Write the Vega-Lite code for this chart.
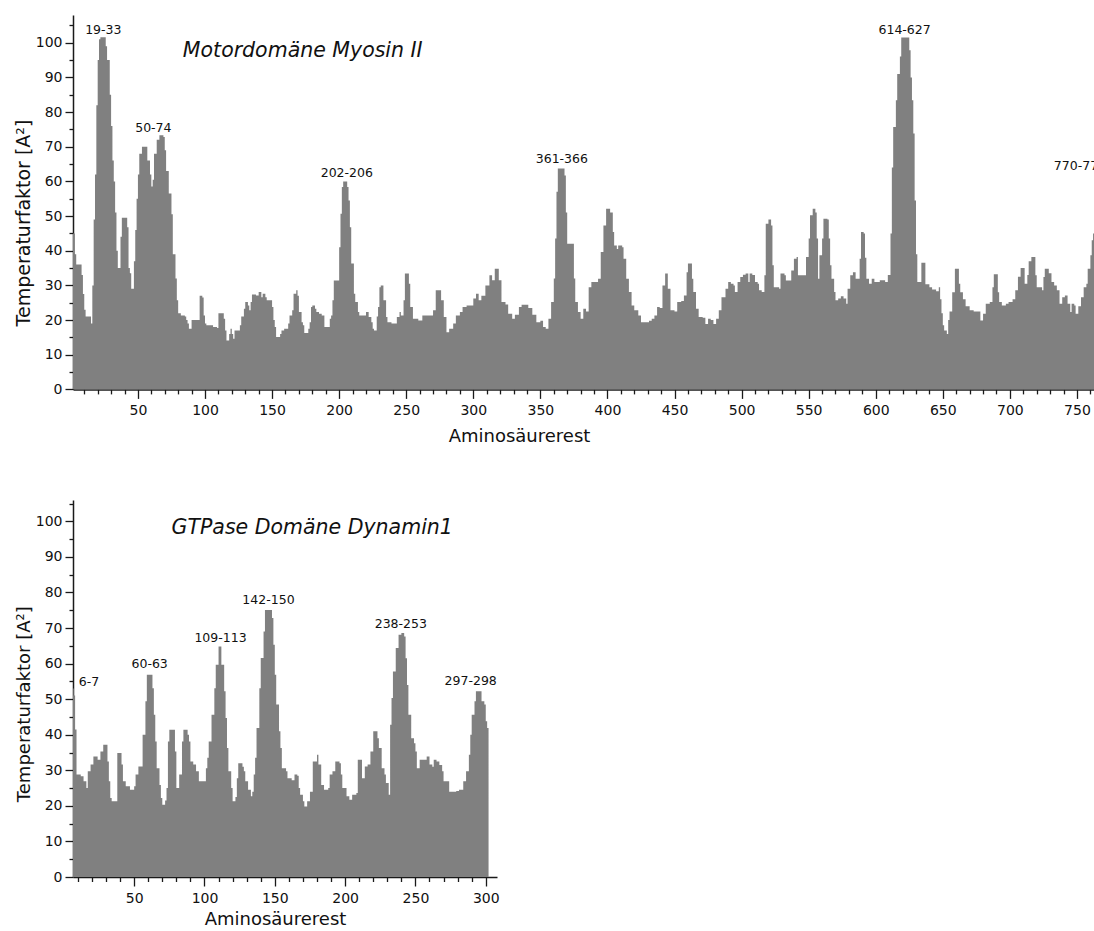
{
  "$schema": "https://vega.github.io/schema/vega-lite/v6.json",
  "background": "white",
  "padding": {"left": 14, "top": 15, "right": 0, "bottom": 0},
  "config": {
    "view": {"stroke": null},
    "font": "DejaVu Sans",
    "axis": {"domainColor": "#1a1a1a", "domainWidth": 1.5, "tickColor": "#1a1a1a", "tickWidth": 1.3, "labelColor": "#111111", "labelFontSize": 14, "labelFont": "DejaVu Sans", "titleFont": "DejaVu Sans", "titleFontWeight": "normal", "titleColor": "#111111", "grid": false, "labelOverlap": false, "labelFlush": false, "zindex": 1}
  },
  "datasets": {
    "myosin": [
      {"res":1,"value":45},{"res":3,"value":39},{"res":4,"value":36},{"res":8,"value":33},{"res":9,"value":27.5},{"res":10,"value":23},{"res":11,"value":21},{"res":15,"value":19},{"res":16,"value":30},{"res":17,"value":49},{"res":18,"value":62},{"res":19,"value":82},{"res":20,"value":95},{"res":21,"value":101},{"res":22,"value":101.6},{"res":26,"value":99},{"res":27,"value":95},{"res":29,"value":85},{"res":30,"value":76},{"res":31,"value":66},{"res":32,"value":60},{"res":33,"value":51},{"res":34,"value":40},{"res":35,"value":35},{"res":37,"value":44},{"res":38,"value":49.5},{"res":42,"value":46.8},{"res":43,"value":35},{"res":44,"value":33.5},{"res":45,"value":29},{"res":47,"value":37},{"res":48,"value":46},{"res":49,"value":55},{"res":50,"value":62},{"res":51,"value":68},{"res":53,"value":70},{"res":57,"value":66},{"res":59,"value":62},{"res":60,"value":58.5},{"res":61,"value":60.5},{"res":62,"value":68},{"res":64,"value":72},{"res":66,"value":73.3},{"res":69,"value":72.8},{"res":70,"value":69},{"res":71,"value":63},{"res":73,"value":56.5},{"res":75,"value":50.5},{"res":76,"value":39},{"res":78,"value":32},{"res":79,"value":25.7},{"res":80,"value":22},{"res":82,"value":21.3},{"res":85,"value":21},{"res":86,"value":20},{"res":87,"value":19},{"res":88,"value":17.5},{"res":90,"value":20},{"res":96,"value":27},{"res":98,"value":26.5},{"res":99,"value":21.3},{"res":100,"value":19},{"res":101,"value":18.5},{"res":106,"value":18},{"res":109,"value":17.7},{"res":110,"value":22},{"res":114,"value":20.4},{"res":115,"value":17},{"res":116,"value":14.1},{"res":118,"value":16},{"res":119,"value":17.5},{"res":120,"value":16},{"res":121,"value":14.6},{"res":122,"value":17},{"res":126,"value":18.5},{"res":127,"value":21},{"res":129,"value":23.3},{"res":130,"value":25.2},{"res":132,"value":24.2},{"res":133,"value":22.8},{"res":134,"value":25.2},{"res":135,"value":27.4},{"res":138,"value":27.1},{"res":140,"value":28.1},{"res":142,"value":26.6},{"res":143,"value":27.6},{"res":145,"value":26.6},{"res":146,"value":25.7},{"res":150,"value":23.8},{"res":151,"value":20},{"res":152,"value":18},{"res":153,"value":15.1},{"res":156,"value":16},{"res":157,"value":17},{"res":159,"value":17.5},{"res":162,"value":19},{"res":163,"value":21.3},{"res":165,"value":22.8},{"res":166,"value":27.6},{"res":168,"value":28.6},{"res":169,"value":27},{"res":170,"value":22.3},{"res":172,"value":19.4},{"res":173,"value":18.5},{"res":174,"value":16.3},{"res":177,"value":17.5},{"res":178,"value":19.4},{"res":179,"value":23.8},{"res":180,"value":24.2},{"res":182,"value":23.3},{"res":183,"value":22.3},{"res":185,"value":21.8},{"res":187,"value":21.3},{"res":189,"value":18},{"res":193,"value":20.4},{"res":194,"value":21.3},{"res":195,"value":25.7},{"res":196,"value":31.4},{"res":200,"value":41},{"res":201,"value":50.7},{"res":202,"value":58.4},{"res":203,"value":60},{"res":206,"value":58.4},{"res":207,"value":54.5},{"res":208,"value":46.8},{"res":209,"value":36.3},{"res":211,"value":27.6},{"res":212,"value":25.2},{"res":214,"value":22.3},{"res":215,"value":21.3},{"res":220,"value":22.3},{"res":222,"value":20.9},{"res":224,"value":19.4},{"res":225,"value":17.5},{"res":226,"value":17},{"res":228,"value":21},{"res":229,"value":23.8},{"res":230,"value":29.5},{"res":231,"value":30},{"res":233,"value":25.7},{"res":235,"value":20.9},{"res":236,"value":19.4},{"res":239,"value":19},{"res":243,"value":20.9},{"res":245,"value":22.3},{"res":246,"value":21.3},{"res":248,"value":25.7},{"res":249,"value":33.4},{"res":252,"value":30.5},{"res":253,"value":23.8},{"res":255,"value":20.4},{"res":259,"value":19.9},{"res":262,"value":21.3},{"res":270,"value":22.8},{"res":272,"value":28.6},{"res":276,"value":25.7},{"res":278,"value":20.9},{"res":280,"value":16.5},{"res":282,"value":17.5},{"res":285,"value":19},{"res":287,"value":21.3},{"res":290,"value":22.3},{"res":292,"value":23.8},{"res":295,"value":24.2},{"res":300,"value":26.2},{"res":302,"value":27.6},{"res":304,"value":25.7},{"res":306,"value":27},{"res":309,"value":30},{"res":312,"value":32.9},{"res":314,"value":31.5},{"res":316,"value":34.8},{"res":319,"value":31.5},{"res":321,"value":25.2},{"res":324,"value":24.5},{"res":326,"value":21.8},{"res":329,"value":20.4},{"res":331,"value":21.5},{"res":334,"value":23.8},{"res":336,"value":24.4},{"res":341,"value":23.5},{"res":344,"value":21.5},{"res":347,"value":19.4},{"res":350,"value":19.8},{"res":352,"value":18},{"res":354,"value":17.5},{"res":356,"value":20.4},{"res":358,"value":25.2},{"res":360,"value":32},{"res":361,"value":43.5},{"res":362,"value":57},{"res":363,"value":63.7},{"res":368,"value":61.7},{"res":369,"value":51},{"res":370,"value":42},{"res":375,"value":32},{"res":376,"value":25.2},{"res":378,"value":22.3},{"res":380,"value":20.4},{"res":382,"value":23.3},{"res":384,"value":22.5},{"res":386,"value":29.5},{"res":388,"value":31},{"res":393,"value":31.9},{"res":395,"value":39.6},{"res":397,"value":47.3},{"res":399,"value":52.1},{"res":402,"value":51},{"res":404,"value":45.4},{"res":405,"value":41.5},{"res":407,"value":40.5},{"res":408,"value":41.5},{"res":411,"value":41},{"res":412,"value":37.7},{"res":414,"value":31.9},{"res":416,"value":28.1},{"res":418,"value":24.2},{"res":420,"value":22.8},{"res":423,"value":21.3},{"res":425,"value":19.4},{"res":431,"value":19.8},{"res":433,"value":20.4},{"res":435,"value":21.3},{"res":437,"value":23.8},{"res":439,"value":23.5},{"res":441,"value":30},{"res":443,"value":33.4},{"res":445,"value":29},{"res":447,"value":22.8},{"res":450,"value":22.5},{"res":452,"value":25.2},{"res":455,"value":25.5},{"res":457,"value":27.1},{"res":459,"value":33.8},{"res":460,"value":36.3},{"res":463,"value":31.9},{"res":464,"value":28.1},{"res":466,"value":23.3},{"res":468,"value":20.9},{"res":471,"value":20.7},{"res":473,"value":18.9},{"res":475,"value":20.4},{"res":477,"value":20},{"res":479,"value":18.9},{"res":481,"value":20.4},{"res":483,"value":22.8},{"res":485,"value":26.6},{"res":488,"value":29},{"res":490,"value":31},{"res":492,"value":30.5},{"res":494,"value":30},{"res":495,"value":28.1},{"res":497,"value":31},{"res":499,"value":32.4},{"res":501,"value":33.1},{"res":503,"value":33.4},{"res":505,"value":31},{"res":506,"value":33.4},{"res":508,"value":33},{"res":510,"value":31},{"res":512,"value":30.5},{"res":513,"value":28.6},{"res":515,"value":28.1},{"res":517,"value":32.9},{"res":518,"value":47.8},{"res":520,"value":49},{"res":522,"value":47.3},{"res":523,"value":35.8},{"res":524,"value":29.5},{"res":528,"value":29},{"res":529,"value":33.4},{"res":532,"value":32.9},{"res":533,"value":31.4},{"res":537,"value":34.3},{"res":539,"value":37.7},{"res":541,"value":38.2},{"res":542,"value":32.9},{"res":548,"value":38.2},{"res":550,"value":43.5},{"res":551,"value":50.2},{"res":553,"value":52.1},{"res":555,"value":51},{"res":556,"value":43.5},{"res":557,"value":31.9},{"res":558,"value":38.7},{"res":560,"value":43.5},{"res":561,"value":49.2},{"res":564,"value":49},{"res":565,"value":43.5},{"res":566,"value":35.8},{"res":567,"value":31.9},{"res":569,"value":28.1},{"res":570,"value":25.7},{"res":572,"value":26.2},{"res":574,"value":26.9},{"res":576,"value":26.2},{"res":578,"value":24.7},{"res":579,"value":29},{"res":581,"value":32.9},{"res":583,"value":33.8},{"res":585,"value":31.9},{"res":588,"value":37.7},{"res":589,"value":45.4},{"res":591,"value":45},{"res":592,"value":38},{"res":593,"value":31.9},{"res":595,"value":30.5},{"res":597,"value":31.9},{"res":599,"value":31},{"res":603,"value":31.5},{"res":607,"value":31},{"res":609,"value":33},{"res":611,"value":45},{"res":612,"value":64},{"res":613,"value":75.7},{"res":615,"value":83.4},{"res":616,"value":91},{"res":618,"value":96},{"res":619,"value":101.5},{"res":625,"value":97.8},{"res":626,"value":90},{"res":627,"value":83.4},{"res":628,"value":73.8},{"res":629,"value":54.5},{"res":630,"value":39},{"res":631,"value":31},{"res":634,"value":36.5},{"res":637,"value":30.3},{"res":640,"value":29.5},{"res":642,"value":28.8},{"res":645,"value":28.3},{"res":647,"value":29.5},{"res":648,"value":26},{"res":649,"value":22},{"res":650,"value":18.5},{"res":651,"value":17},{"res":653,"value":16},{"res":654,"value":20},{"res":655,"value":22.5},{"res":657,"value":28},{"res":659,"value":34.8},{"res":662,"value":30.5},{"res":663,"value":28},{"res":665,"value":26},{"res":667,"value":24},{"res":670,"value":22.8},{"res":673,"value":22.5},{"res":678,"value":19.9},{"res":680,"value":21.8},{"res":682,"value":24.7},{"res":685,"value":25.2},{"res":687,"value":29.5},{"res":688,"value":33.2},{"res":691,"value":28},{"res":692,"value":25.2},{"res":694,"value":24.2},{"res":697,"value":24.7},{"res":699,"value":25.2},{"res":702,"value":26},{"res":704,"value":28.6},{"res":706,"value":32.5},{"res":708,"value":35},{"res":711,"value":30.5},{"res":713,"value":33},{"res":714,"value":37},{"res":716,"value":38.2},{"res":719,"value":32.9},{"res":720,"value":29.5},{"res":724,"value":28.6},{"res":725,"value":32.4},{"res":726,"value":34.8},{"res":729,"value":33.5},{"res":731,"value":31},{"res":733,"value":30},{"res":735,"value":28.6},{"res":737,"value":24.7},{"res":739,"value":26.6},{"res":741,"value":27.1},{"res":743,"value":24.7},{"res":745,"value":22.3},{"res":746,"value":24.7},{"res":748,"value":24.2},{"res":749,"value":21.8},{"res":751,"value":24},{"res":753,"value":26.6},{"res":755,"value":29.5},{"res":757,"value":30.5},{"res":758,"value":34.8},{"res":760,"value":38.7},{"res":761,"value":43},{"res":762,"value":45},{"res":763,"value":45}
    ],
    "myosinLabels": [
      {"res":24.2,"value":102.6,"label":"19-33"},
      {"res":61.5,"value":74.2,"label":"50-74"},
      {"res":205.7,"value":61.2,"label":"202-206"},
      {"res":366,"value":65.4,"label":"361-366"},
      {"res":621.5,"value":102.6,"label":"614-627"},
      {"res":752.2,"value":63.2,"label":"770-778"}
    ],
    "myosinTitle": [{"res":83.5,"value":95.8,"label":"Motordomäne Myosin II"}],
    "dynamin": [
      {"res":6,"value":53},{"res":7,"value":51},{"res":8,"value":41.5},{"res":9,"value":28.8},{"res":12,"value":28.3},{"res":14,"value":26.9},{"res":16,"value":25},{"res":17,"value":29.7},{"res":19,"value":31.6},{"res":21,"value":33.9},{"res":24,"value":33},{"res":26,"value":35.3},{"res":28,"value":37.2},{"res":31,"value":32.5},{"res":32,"value":26.9},{"res":33,"value":22.2},{"res":34,"value":21.3},{"res":38,"value":34.9},{"res":41,"value":31.6},{"res":42,"value":26.9},{"res":44,"value":25.5},{"res":47,"value":24.5},{"res":50,"value":25.5},{"res":51,"value":28.8},{"res":53,"value":31.1},{"res":56,"value":40},{"res":58,"value":49.4},{"res":59,"value":56.9},{"res":63,"value":53.1},{"res":64,"value":45.6},{"res":65,"value":38.1},{"res":66,"value":30.6},{"res":68,"value":25.9},{"res":69,"value":22.2},{"res":70,"value":20.3},{"res":72,"value":21.5},{"res":73,"value":25},{"res":74,"value":38.1},{"res":75,"value":41.4},{"res":79,"value":35.3},{"res":80,"value":25},{"res":82,"value":28.8},{"res":84,"value":38.1},{"res":85,"value":41.4},{"res":88,"value":40},{"res":89,"value":38.1},{"res":90,"value":32.5},{"res":92,"value":31.6},{"res":94,"value":29.7},{"res":96,"value":26.9},{"res":101,"value":30.6},{"res":102,"value":33.5},{"res":103,"value":38.1},{"res":105,"value":45.6},{"res":107,"value":53.1},{"res":108,"value":59.7},{"res":110,"value":64.8},{"res":112,"value":59.7},{"res":114,"value":52.2},{"res":115,"value":44.7},{"res":116,"value":36.3},{"res":117,"value":29.7},{"res":119,"value":25},{"res":120,"value":21.3},{"res":122,"value":22.5},{"res":123,"value":27.8},{"res":124,"value":32},{"res":127,"value":31},{"res":128,"value":29.7},{"res":129,"value":26.9},{"res":131,"value":24.5},{"res":133,"value":22.7},{"res":134,"value":24},{"res":135,"value":28.8},{"res":136,"value":33.5},{"res":137,"value":41.9},{"res":139,"value":53.1},{"res":140,"value":61.6},{"res":142,"value":69},{"res":143,"value":75.1},{"res":148,"value":72.8},{"res":149,"value":65.3},{"res":150,"value":56.9},{"res":151,"value":48.5},{"res":153,"value":41},{"res":154,"value":36.3},{"res":155,"value":30.6},{"res":158,"value":29.7},{"res":159,"value":27.8},{"res":162,"value":27.2},{"res":164,"value":28.8},{"res":166,"value":28.5},{"res":167,"value":25},{"res":168,"value":23.1},{"res":170,"value":21.3},{"res":171,"value":19.8},{"res":173,"value":21.3},{"res":175,"value":24},{"res":177,"value":32.5},{"res":180,"value":34.4},{"res":181,"value":31.6},{"res":183,"value":25.9},{"res":185,"value":24.5},{"res":188,"value":25},{"res":189,"value":28.8},{"res":191,"value":29.7},{"res":193,"value":32.5},{"res":196,"value":32},{"res":197,"value":28.8},{"res":198,"value":25},{"res":201,"value":22.7},{"res":203,"value":21.7},{"res":205,"value":23.1},{"res":208,"value":23.6},{"res":209,"value":33},{"res":212,"value":27.8},{"res":214,"value":31.1},{"res":216,"value":31.6},{"res":218,"value":35.3},{"res":220,"value":41},{"res":223,"value":39},{"res":224,"value":36.3},{"res":226,"value":30.6},{"res":228,"value":28.8},{"res":229,"value":26.4},{"res":231,"value":23.1},{"res":232,"value":42.8},{"res":233,"value":50.3},{"res":234,"value":57.8},{"res":236,"value":64.4},{"res":238,"value":68.1},{"res":240,"value":68.6},{"res":242,"value":67.6},{"res":243,"value":61.5},{"res":244,"value":54},{"res":245,"value":45.6},{"res":247,"value":39},{"res":249,"value":37.6},{"res":250,"value":35.3},{"res":251,"value":30.6},{"res":253,"value":33},{"res":258,"value":33.9},{"res":260,"value":31.6},{"res":262,"value":31},{"res":263,"value":33},{"res":265,"value":32.5},{"res":267,"value":31.5},{"res":269,"value":29.7},{"res":270,"value":26.9},{"res":274,"value":24},{"res":279,"value":24.2},{"res":281,"value":24.5},{"res":284,"value":26.9},{"res":286,"value":29.7},{"res":288,"value":34.4},{"res":289,"value":40},{"res":290,"value":45.6},{"res":292,"value":49.4},{"res":293,"value":52.2},{"res":297,"value":49.4},{"res":299,"value":48.5},{"res":300,"value":43.8},{"res":301,"value":41.9},{"res":302,"value":41.9}
    ],
    "dynaminLabels": [
      {"res":17.8,"value":53.6,"label":"6-7"},
      {"res":61,"value":58.8,"label":"60-63"},
      {"res":111.4,"value":66.1,"label":"109-113"},
      {"res":145.5,"value":76.8,"label":"142-150"},
      {"res":239.6,"value":70,"label":"238-253"},
      {"res":289.3,"value":54.1,"label":"297-298"}
    ],
    "dynaminTitle": [{"res":76.6,"value":96.5,"label":"GTPase Domäne Dynamin1"}]
  },
  "spacing": 50,
  "vconcat": [
    {
      "width": 1021,
      "height": 374.4,
      "encoding": {
        "x": {"field": "res", "type": "quantitative", "scale": {"domain": [1.6, 762.7], "nice": false, "zero": false},
          "axis": {"title": "Aminosäurerest", "titleFontSize": 18, "titleX": 446, "titleY": 52.3, "titleBaseline": "alphabetic", "titleAlign": "center",
            "values": [10,20,30,40,50,60,70,80,90,100,110,120,130,140,150,160,170,180,190,200,210,220,230,240,250,260,270,280,290,300,310,320,330,340,350,360,370,380,390,400,410,420,430,440,450,460,470,480,490,500,510,520,530,540,550,560,570,580,590,600,610,620,630,640,650,660,670,680,690,700,710,720,730,740,750,760],
            "labelExpr": "datum.value % 50 === 0 ? datum.label : ''",
            "tickSize": {"condition": {"test": "datum.value % 50 === 0", "value": 9}, "value": 4.5},
            "labelPadding": 5}},
        "y": {"field": "value", "type": "quantitative", "stack": null, "scale": {"domain": [0, 108], "nice": false},
          "axis": {"title": "Temperaturfaktor [A²]", "titleFontSize": 19, "titleX": -44, "titleY": 207.5, "titleBaseline": "alphabetic", "titleAlign": "center",
            "values": [0,5,10,15,20,25,30,35,40,45,50,55,60,65,70,75,80,85,90,95,100,105],
            "labelExpr": "datum.value % 10 === 0 ? datum.label : ''",
            "tickSize": {"condition": {"test": "datum.value % 10 === 0", "value": 8}, "value": 4},
            "labelPadding": 3}}
      },
      "layer": [
        {"data": {"name": "myosin"}, "mark": {"type": "area", "interpolate": "step-after", "color": "#808080", "clip": true}},
        {"data": {"name": "myosinLabels"}, "mark": {"type": "text", "fontSize": 12.5, "font": "DejaVu Sans", "align": "center", "baseline": "alphabetic", "color": "#111111", "clip": true}, "encoding": {"text": {"field": "label"}}},
        {"data": {"name": "myosinTitle"}, "mark": {"type": "text", "fontSize": 20.5, "font": "DejaVu Sans", "fontStyle": "italic", "align": "left", "baseline": "alphabetic", "color": "#111111"}, "encoding": {"text": {"field": "label"}}}
      ]
    },
    {
      "width": 424,
      "height": 377,
      "encoding": {
        "x": {"field": "res", "type": "quantitative", "scale": {"domain": [6.5, 308], "nice": false, "zero": false},
          "axis": {"title": "Aminosäurerest", "titleFontSize": 18, "titleX": 202, "titleY": 47.5, "titleBaseline": "alphabetic", "titleAlign": "center",
            "values": [10,20,30,40,50,60,70,80,90,100,110,120,130,140,150,160,170,180,190,200,210,220,230,240,250,260,270,280,290,300],
            "labelExpr": "datum.value % 50 === 0 ? datum.label : ''",
            "tickSize": {"condition": {"test": "datum.value % 50 === 0", "value": 9}, "value": 4.5},
            "labelPadding": 5}},
        "y": {"field": "value", "type": "quantitative", "stack": null, "scale": {"domain": [0, 106], "nice": false},
          "axis": {"title": "Temperaturfaktor [A²]", "titleFontSize": 18, "titleX": -44, "titleY": 203.7, "titleBaseline": "alphabetic", "titleAlign": "center",
            "values": [0,5,10,15,20,25,30,35,40,45,50,55,60,65,70,75,80,85,90,95,100,105],
            "labelExpr": "datum.value % 10 === 0 ? datum.label : ''",
            "tickSize": {"condition": {"test": "datum.value % 10 === 0", "value": 8}, "value": 4},
            "labelPadding": 3}}
      },
      "layer": [
        {"data": {"name": "dynamin"}, "mark": {"type": "area", "interpolate": "step-after", "color": "#808080", "clip": true}},
        {"data": {"name": "dynaminLabels"}, "mark": {"type": "text", "fontSize": 12.5, "font": "DejaVu Sans", "align": "center", "baseline": "alphabetic", "color": "#111111"}, "encoding": {"text": {"field": "label"}}},
        {"data": {"name": "dynaminTitle"}, "mark": {"type": "text", "fontSize": 20.5, "font": "DejaVu Sans", "fontStyle": "italic", "align": "left", "baseline": "alphabetic", "color": "#111111"}, "encoding": {"text": {"field": "label"}}}
      ]
    }
  ]
}
